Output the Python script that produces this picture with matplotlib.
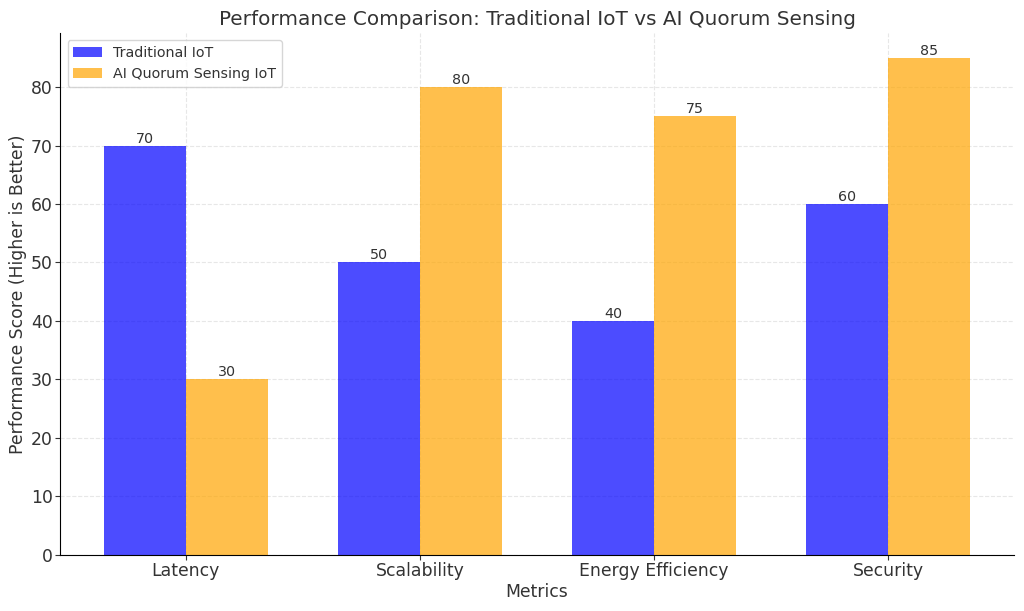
import matplotlib
matplotlib.use("Agg")
import matplotlib.pyplot as plt
import numpy as np

metrics = ["Latency", "Scalability", "Energy Efficiency", "Security"]
traditional = [70, 50, 40, 60]
ai_quorum = [30, 80, 75, 85]

plt.rcParams['text.color'] = '#333333'
plt.rcParams['axes.labelcolor'] = '#333333'
plt.rcParams['xtick.color'] = '#333333'
plt.rcParams['ytick.color'] = '#333333'

fig, ax = plt.subplots(figsize=(10.24, 6.11), dpi=100)
x = np.arange(len(metrics))
w = 0.35

b1 = ax.bar(x - w / 2, traditional, w, label="Traditional IoT", color="blue", alpha=0.7)
b2 = ax.bar(x + w / 2, ai_quorum, w, label="AI Quorum Sensing IoT", color="orange", alpha=0.7)

for bars in (b1, b2):
    for b in bars:
        ax.text(b.get_x() + b.get_width() / 2, b.get_height(), f"{int(b.get_height())}",
                ha="center", va="bottom", fontsize=10.3)

ax.set_xticks(x)
ax.set_xticklabels(metrics, fontsize=12.4)
ax.tick_params(axis='y', labelsize=12.4, pad=2)
ax.tick_params(axis='x', pad=1.5)
ax.set_xlabel("Metrics", fontsize=12.4, labelpad=2)
ax.set_ylabel("Performance Score (Higher is Better)", fontsize=12.4, labelpad=3)
ax.set_title("Performance Comparison: Traditional IoT vs AI Quorum Sensing", fontsize=14.4)
ax.legend(fontsize=10.3, loc="upper left")
ax.grid(True, linestyle="--", alpha=0.3)
ax.set_axisbelow(True)
ax.spines['top'].set_visible(False)
ax.spines['right'].set_visible(False)

plt.subplots_adjust(left=0.059, right=0.99, top=0.946, bottom=0.092)
plt.savefig("out.png", dpi=100)
